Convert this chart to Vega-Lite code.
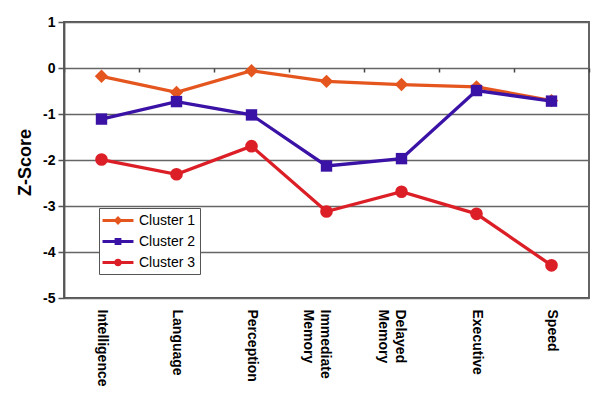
{
  "$schema": "https://vega.github.io/schema/vega-lite/v6.json",
  "width": 525,
  "height": 276,
  "autosize": {"type": "none"},
  "padding": {"left": 64, "top": 22, "right": 15, "bottom": 106},
  "background": "white",
  "config": {
    "font": "Liberation Sans",
    "view": {"stroke": "#555555", "strokeWidth": 1.8}
  },
  "data": {
    "values": [
      {"domain": "Intelligence", "cluster": "Cluster 1", "zscore": -0.18},
      {"domain": "Language", "cluster": "Cluster 1", "zscore": -0.53},
      {"domain": "Perception", "cluster": "Cluster 1", "zscore": -0.06},
      {"domain": "Immediate Memory", "cluster": "Cluster 1", "zscore": -0.29},
      {"domain": "Delayed Memory", "cluster": "Cluster 1", "zscore": -0.36},
      {"domain": "Executive", "cluster": "Cluster 1", "zscore": -0.41},
      {"domain": "Speed", "cluster": "Cluster 1", "zscore": -0.71},
      {"domain": "Intelligence", "cluster": "Cluster 2", "zscore": -1.11},
      {"domain": "Language", "cluster": "Cluster 2", "zscore": -0.73},
      {"domain": "Perception", "cluster": "Cluster 2", "zscore": -1.02},
      {"domain": "Immediate Memory", "cluster": "Cluster 2", "zscore": -2.13},
      {"domain": "Delayed Memory", "cluster": "Cluster 2", "zscore": -1.97},
      {"domain": "Executive", "cluster": "Cluster 2", "zscore": -0.49},
      {"domain": "Speed", "cluster": "Cluster 2", "zscore": -0.72},
      {"domain": "Intelligence", "cluster": "Cluster 3", "zscore": -1.99},
      {"domain": "Language", "cluster": "Cluster 3", "zscore": -2.31},
      {"domain": "Perception", "cluster": "Cluster 3", "zscore": -1.70},
      {"domain": "Immediate Memory", "cluster": "Cluster 3", "zscore": -3.12},
      {"domain": "Delayed Memory", "cluster": "Cluster 3", "zscore": -2.69},
      {"domain": "Executive", "cluster": "Cluster 3", "zscore": -3.17},
      {"domain": "Speed", "cluster": "Cluster 3", "zscore": -4.29}
    ]
  },
  "encoding": {
    "y": {
      "field": "zscore",
      "type": "quantitative",
      "scale": {"domain": [-5, 1], "nice": false, "zero": false},
      "axis": {
        "values": [1, 0, -1, -2, -3, -4, -5],
        "labelExpr": "'' + datum.value",
        "title": "Z-Score",
        "titleFontSize": 18,
        "titleFontWeight": "bold",
        "titleColor": "black",
        "titleX": -39,
        "titleY": 140,
        "titleAngle": -90,
        "titleAlign": "center",
        "titleBaseline": "middle",
        "labelFontSize": 14,
        "labelFontWeight": "bold",
        "labelColor": "black",
        "labelPadding": 3,
        "tickSize": 6,
        "tickColor": "#555555",
        "tickWidth": 1.5,
        "domainColor": "#555555",
        "domainWidth": 1.8,
        "grid": true,
        "gridColor": "#666666",
        "gridWidth": 1.6
      }
    },
    "x": {
      "field": "domain",
      "type": "nominal",
      "bandPosition": 0.5,
      "sort": ["Intelligence", "Language", "Perception", "Immediate Memory", "Delayed Memory", "Executive", "Speed"],
      "scale": {"type": "band", "paddingInner": 0, "paddingOuter": 0},
      "axis": null
    }
  },
  "layer": [
    {
      "transform": [{"filter": "false"}],
      "mark": {"type": "point", "filled": true, "opacity": 1},
      "encoding": {
        "color": {
          "field": "cluster",
          "type": "nominal",
          "scale": {"domain": ["Cluster 1", "Cluster 2", "Cluster 3"], "range": ["#E5561F", "#3A12A6", "#DC1F27"]},
          "legend": {
            "orient": "none",
            "legendX": 35,
            "legendY": 186,
            "title": null,
            "strokeColor": "#555555",
            "fillColor": "white",
            "padding": 4,
            "labelFontSize": 14,
            "labelColor": "black",
            "labelOffset": 12.5,
            "rowPadding": 5,
            "symbolSize": 289,
            "symbolOffset": 6.5,
            "symbolStrokeWidth": 0
          }
        },
        "shape": {
          "field": "cluster",
          "type": "nominal",
          "scale": {
            "domain": ["Cluster 1", "Cluster 2", "Cluster 3"],
            "range": [
              "M-1.82,-0.18H1.82V0.18H-1.82ZM0,-0.52L0.52,0L0,0.52L-0.52,0Z",
              "M-1.82,-0.18H1.82V0.18H-1.82ZM-0.4,-0.4H0.4V0.4H-0.4Z",
              "M-1.82,-0.18H1.82V0.18H-1.82ZM-0.45,0A0.45,0.45,0,1,1,0.45,0A0.45,0.45,0,1,1,-0.45,0Z"
            ]
          },
          "legend": {
            "orient": "none",
            "legendX": 35,
            "legendY": 186,
            "title": null,
            "strokeColor": "#555555",
            "fillColor": "white",
            "padding": 4,
            "labelFontSize": 14,
            "labelColor": "black",
            "labelOffset": 12.5,
            "rowPadding": 5,
            "symbolSize": 289,
            "symbolOffset": 6.5,
            "symbolStrokeWidth": 0
          }
        }
      }
    },
    {
      "transform": [{"filter": "datum.cluster === 'Cluster 1'"}],
      "mark": {"type": "line", "strokeWidth": 3.3, "color": "#E5561F"},
      "encoding": {
        "x": {
          "field": "domain",
          "type": "nominal",
          "bandPosition": 0.5,
          "sort": ["Intelligence", "Language", "Perception", "Immediate Memory", "Delayed Memory", "Executive", "Speed"],
          "scale": {"type": "band", "paddingInner": 0, "paddingOuter": 0},
          "axis": {
            "orient": "bottom",
            "title": null,
            "labelAngle": 90,
            "labelAlign": "left",
            "labelBaseline": "middle",
            "labelFontSize": 14,
            "labelFontWeight": "bold",
            "labelColor": "black",
            "labelPadding": 11,
            "labelExpr": "split(datum.label, ' ')",
            "labelLineHeight": 17,
            "labelOffset": {"expr": "indexof(datum.value, ' ') > 0 ? -2 : 0"},
            "ticks": false,
            "domain": false,
            "grid": false
          }
        }
      }
    },
    {
      "transform": [{"filter": "datum.cluster === 'Cluster 1'"}],
      "mark": {"type": "point", "filled": true, "opacity": 1, "shape": "diamond", "size": 180, "color": "#E5561F"},
      "encoding": {
        "x": {
          "field": "domain",
          "type": "nominal",
          "bandPosition": 0.5,
          "sort": ["Intelligence", "Language", "Perception", "Immediate Memory", "Delayed Memory", "Executive", "Speed"],
          "scale": {"type": "band", "paddingInner": 0, "paddingOuter": 0},
          "axis": {
            "orient": "bottom",
            "offset": -230,
            "title": null,
            "labels": false,
            "domain": false,
            "grid": false,
            "ticks": true,
            "tickBand": "extent",
            "tickSize": 4,
            "tickColor": "#444444",
            "tickWidth": 1.5
          }
        }
      }
    },
    {
      "transform": [{"filter": "datum.cluster === 'Cluster 2'"}],
      "mark": {"type": "line", "strokeWidth": 3.3, "color": "#3A12A6"}
    },
    {
      "transform": [{"filter": "datum.cluster === 'Cluster 2'"}],
      "mark": {"type": "point", "filled": true, "opacity": 1, "shape": "square", "size": 130, "color": "#3A12A6"}
    },
    {
      "transform": [{"filter": "datum.cluster === 'Cluster 3'"}],
      "mark": {"type": "line", "strokeWidth": 3.3, "color": "#DC1F27"}
    },
    {
      "transform": [{"filter": "datum.cluster === 'Cluster 3'"}],
      "mark": {"type": "point", "filled": true, "opacity": 1, "shape": "circle", "size": 160, "color": "#DC1F27"}
    }
  ],
  "resolve": {"axis": {"x": "independent"}}
}
